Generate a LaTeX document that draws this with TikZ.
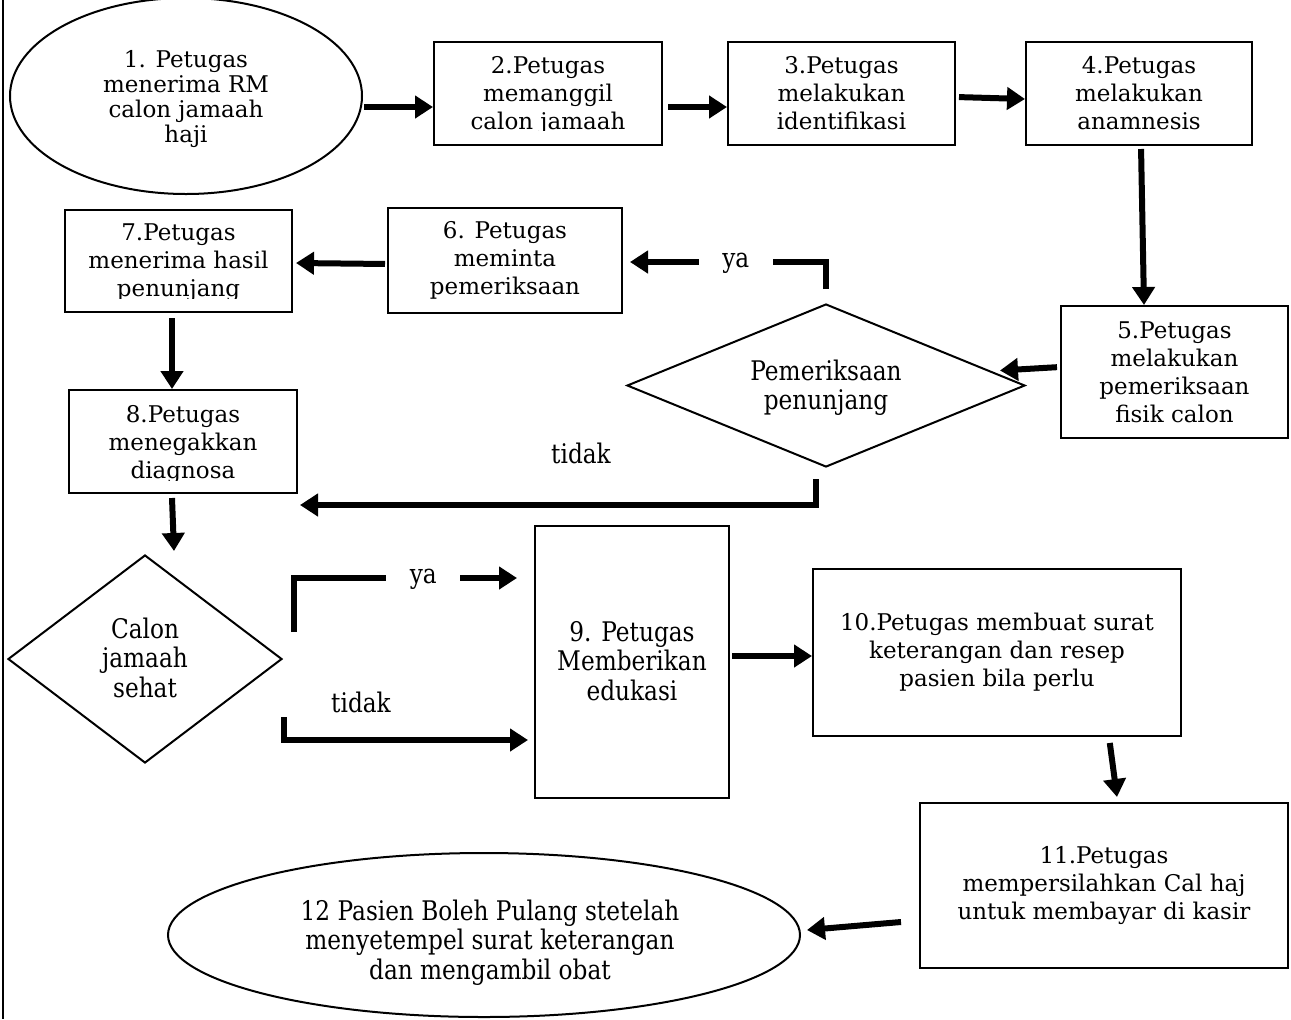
\documentclass[tikz,border=0pt]{standalone}
\usepackage{fontspec}
\setmainfont{DejaVu Serif}
\usepackage{graphicx}
\usetikzlibrary{arrows.meta,shapes.geometric,calc}

% condensed, slightly taller lettering used in the decisions and a few boxes
\newcommand\narrowtext[1]{\scalebox{0.86}[1]{\fontsize{13.5}{14.5}\selectfont\begin{tabular}{@{}c@{}}#1\end{tabular}}}

\begin{document}
\begin{tikzpicture}[x=0.5pt,y=-0.5pt,
  txt/.style={font=\fontsize{11.5}{14}\selectfont, inner sep=0pt, align=center},
  stepbox/.style={txt, draw, line width=1pt, rectangle},
  oval/.style={txt, draw, line width=1pt, ellipse},
  decision/.style={draw, line width=1pt, diamond, inner sep=0pt},
  flow/.style={line width=3pt, -{Triangle[length=9pt,width=11pt]}},
  lbl/.style={txt, fill=white},
]
\useasboundingbox (0,0) rectangle (1291,1019);
\clip (0,0) rectangle (1291,1019);

% left rule
\draw[line width=1pt] (3,0) -- (3,1019);

% ---------- steps ----------
\node[oval, minimum width=176pt, minimum height=98pt] (e1) at (186,96) {};
\node[txt, font=\fontsize{11.5}{12.5}\selectfont] (e1t) at (186,99)
  {1. Petugas\\menerima RM\\calon jamaah\\haji};
\node[stepbox, minimum width=114pt, minimum height=51.5pt] (b2) at (548,93.5) {};
\node[stepbox, minimum width=113.5pt, minimum height=51.5pt] (b3) at (841.5,93.5)
  {3.Petugas\\melakukan\\identifikasi};
\node[stepbox, minimum width=113pt, minimum height=51.5pt] (b4) at (1139,93.5)
  {4.Petugas\\melakukan\\anamnesis};
\node[stepbox, minimum width=113.5pt, minimum height=66pt] (b5) at (1174.5,372)
  {5.Petugas\\melakukan\\pemeriksaan\\fisik calon};
\node[decision, minimum width=199pt, minimum height=81.5pt] (d1) at (826,385.5) {};
\node[txt] (d1t) at (826,389) {\narrowtext{Pemeriksaan\\penunjang}};
\node[stepbox, minimum width=117pt, minimum height=52.5pt] (b6) at (505,260.5)
  {6. Petugas\\meminta\\pemeriksaan};
\node[stepbox, minimum width=113.5pt, minimum height=51pt] (b7) at (178.5,261) {};
\node[stepbox, minimum width=114pt, minimum height=51.5pt] (b8) at (183,441.5) {};
\node[decision, minimum width=137pt, minimum height=104pt] (d2) at (145,659) {};
\node[txt] (d2t) at (145,662) {\narrowtext{Calon\\jamaah\\sehat}};
\node[stepbox, minimum width=97pt, minimum height=136pt] (b9) at (632,662) {};
\node[txt] (b9t) at (632,665) {\narrowtext{9. Petugas\\Memberikan\\edukasi}};
\node[stepbox, minimum width=184pt, minimum height=83.5pt] (b10) at (997,652.5)
  {10.Petugas membuat surat\\keterangan dan resep\\pasien bila perlu};
\node[stepbox, minimum width=184pt, minimum height=82.5pt] (b11) at (1104,885.5)
  {11.Petugas\\mempersilahkan Cal haj\\untuk membayar di kasir};
\node[oval, minimum width=316pt, minimum height=82pt] (e12) at (484,935) {};
\node[txt] (e12t) at (490,944)
  {\narrowtext{12 Pasien Boleh Pulang stetelah\\menyetempel surat keterangan\\dan mengambil obat}};

% texts whose last line runs into the lower margin of the box
\begin{scope}
  \clip (b2.north west) rectangle ($(b2.south east)+(0,-16)$);
  \node[txt] (b2t) at ($(b2)+(0,2)$) {2.Petugas\\memanggil\\calon jamaah};
\end{scope}
\begin{scope}
  \clip (b7.north west) rectangle ($(b7.south east)+(0,-15)$);
  \node[txt] (b7t) at ($(b7)+(0,2)$) {7.Petugas\\menerima hasil\\penunjang};
\end{scope}
\begin{scope}
  \clip (b8.north west) rectangle ($(b8.south east)+(0,-14)$);
  \node[txt] (b8t) at ($(b8)+(0,3)$) {8.Petugas\\menegakkan\\diagnosa};
\end{scope}

% ---------- connectors ----------
\draw[flow, shorten <=0.5pt] (e1.east |- 0,107) -- (b2.west |- 0,107);
\draw[flow, shorten <=2.5pt] (b2.east |- 0,107) -- (b3.west |- 0,107);
\draw[flow, shorten <=1.5pt] (b3.east |- 0,97) -- (b4.west |- 0,99);
\draw[flow, shorten <=1.5pt] (1141,0 |- b4.south) -- (1144,0 |- b5.north);
\draw[flow, shorten <=1.5pt] (b5.west |- 0,367) -- ($(d1.east)+(-26,-15)$);
\draw[flow] ($(d1.north)+(0,-14)$) |- ($(b6.east)+(7,1.5)$)
  node[lbl, pos=0.73, minimum width=37pt] (ya1) {\narrowtext{ya}};
\draw[flow, shorten <=1pt] (b6.west |- 0,264) -- ($(b7.east)+(3,2)$);
\draw[flow, shorten <=2.5pt] (172,0 |- b7.south) -- (172,0 |- b8.north);
\draw[flow] ($(d1.south)+(-10,11)$) |- ($(b8.south east)+(2,11)$);
\node[txt] (tidak1) at (581,458) {\narrowtext{tidak}};
\draw[flow] ($(b8.south)+(-11,4)$) -- ($(d2.north)+(29,-3)$);
\draw[flow] ($(d2.east)+(11,-27)$) |- ($(b9.west)+(-17,-84)$)
  node[lbl, pos=0.79, minimum width=37pt] (ya2) {\narrowtext{ya}};
\draw[flow] ($(d2.east)+(1,58)$) |- ($(b9.west)+(-6,78)$);
\node[txt] (tidak2) at (361,707) {\narrowtext{tidak}};
\draw[flow, shorten <=1pt] (b9.east |- 0,656) -- (b10.west |- 0,656);
\draw[flow, shorten <=3pt] ($(b10.south)+(112,0)$) -- ($(b11.north)+(13,-5)$);
\draw[flow] ($(b11.west)+(-18,36.5)$) -- ($(e12.east)+(6,-5)$);
\end{tikzpicture}
\end{document}
